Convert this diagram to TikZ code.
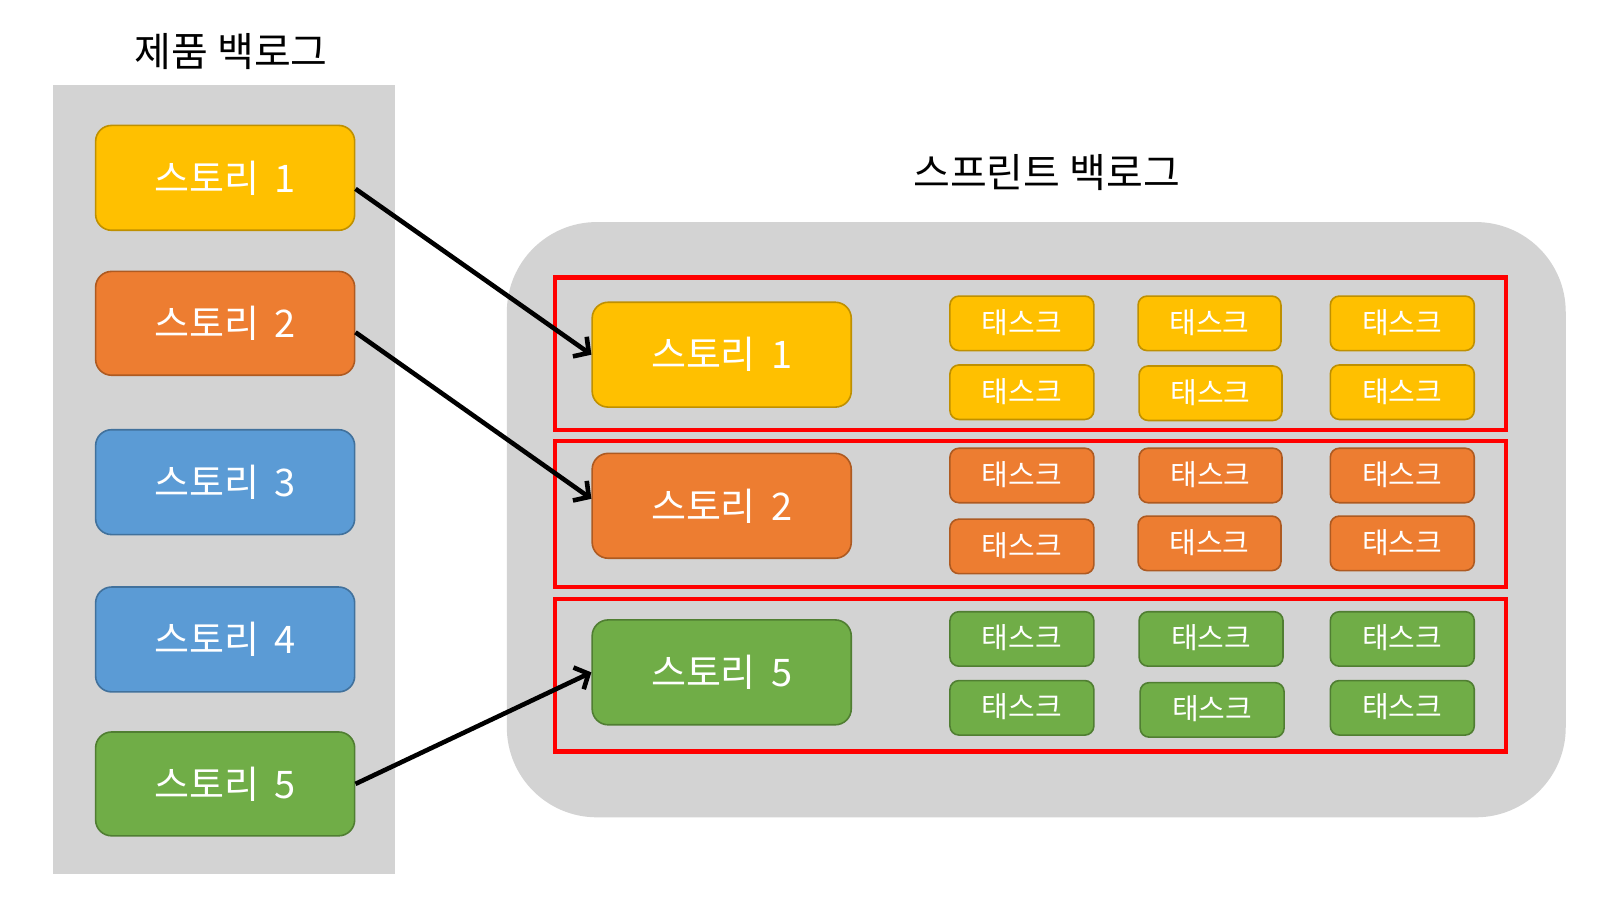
\documentclass[tikz,border=0pt]{standalone}
\usepackage{fontspec}
\setmainfont{Noto Sans CJK KR}
\usetikzlibrary{fit,arrows.meta}
\definecolor{ygold}{HTML}{FFC000}\definecolor{ygoldb}{HTML}{BF9000}
\definecolor{orng}{HTML}{ED7D31}\definecolor{orngb}{HTML}{AE5A21}
\definecolor{blu}{HTML}{5B9BD5}\definecolor{blub}{HTML}{41719C}
\definecolor{grn}{HTML}{70AD47}\definecolor{grnb}{HTML}{507E32}
\definecolor{panel}{HTML}{D3D3D3}
\newcommand{\sty}[1]{스토리\hspace{0.18em} #1}
\tikzset{
  box/.style={fit={#1}, inner sep=0pt, line width=1.6pt, rounded corners=16pt},
  tbox/.style={fit={#1}, inner sep=0pt, line width=1.6pt, rounded corners=9pt},
  yel/.style={fill=ygold, draw=ygoldb},
  ora/.style={fill=orng, draw=orngb},
  blue/.style={fill=blu, draw=blub},
  gre/.style={fill=grn, draw=grnb},
  stxt/.style={text=white, font=\fontsize{38}{44}\selectfont},
  ttxt/.style={text=white, font=\fontsize{29}{34}\selectfont},
  ttl/.style={text=black, font=\fontsize{40}{46}\selectfont},
  redrow/.style={fit={#1}, inner sep=0pt, draw=red, line width=4.2pt},
  conn/.style={line width=4.6pt, -{Straight Barb[length=11pt,width=24pt,line width=4.6pt]}},
}
\begin{document}
\begin{tikzpicture}[x=1.028pt,y=-1.028pt]
\useasboundingbox (0,0) rectangle (1568,876);
\fill[white] (0,0) rectangle (1568,876);
% titles
\node[ttl] (t1) at (225,50) {제품 백로그};
\node[ttl] (t2) at (1018,168) {스프린트 백로그};
% left panel
\node[fit={(52,83) (384,850)}, inner sep=0pt, fill=panel] (lp) {};
% right panel
\node[fit={(493,216) (1523,795)}, inner sep=0pt, fill=panel, rounded corners=90pt] (rp) {};
% left stories
\node[box={(93,122) (345,224)}, yel] (l1) {};
\node[box={(93,264) (345,365)}, ora] (l2) {};
\node[box={(93,418) (345,520)}, blue] (l3) {};
\node[box={(93,571) (345,673)}, blue] (l4) {};
\node[box={(93,712) (345,813)}, gre] (l5) {};
\node[stxt] at (l1.center) {\sty{1}};
\node[stxt] at (l2.center) {\sty{2}};
\node[stxt] at (l3.center) {\sty{3}};
\node[stxt] at (l4.center) {\sty{4}};
\node[stxt] at (l5.center) {\sty{5}};
% red rows
\node[redrow={(540,270) (1465,418)}] (r1) {};
\node[redrow={(540,429) (1465,571)}] (r2) {};
\node[redrow={(540,583) (1465,731)}] (r3) {};
% right stories
\node[box={(576,294) (828,396)}, yel] (s1) {};
\node[box={(576,441) (828,543)}, ora] (s2) {};
\node[box={(576,603) (828,705)}, gre] (s5) {};
\node[stxt] at (s1.center) {\sty{1}};
\node[stxt] at (s2.center) {\sty{2}};
\node[stxt] at (s5.center) {\sty{5}};
% tasks row 1
\node[tbox={(924,288) (1064,341)}, yel] (a1) {};
\node[tbox={(1107,288) (1246,341)}, yel] (a2) {};
\node[tbox={(1294,288) (1434,341)}, yel] (a3) {};
\node[tbox={(924,355) (1064,408)}, yel] (a4) {};
\node[tbox={(1108,356) (1247,409)}, yel] (a5) {};
\node[tbox={(1294,355) (1434,408)}, yel] (a6) {};
% tasks row 2
\node[tbox={(924,436) (1064,489)}, ora] (b1) {};
\node[tbox={(1108,436) (1247,489)}, ora] (b2) {};
\node[tbox={(1294,436) (1434,489)}, ora] (b3) {};
\node[tbox={(924,505) (1064,558)}, ora] (b4) {};
\node[tbox={(1107,502) (1246,555)}, ora] (b5) {};
\node[tbox={(1294,502) (1434,555)}, ora] (b6) {};
% tasks row 3
\node[tbox={(924,595) (1064,648)}, gre] (c1) {};
\node[tbox={(1108,595) (1248,648)}, gre] (c2) {};
\node[tbox={(1294,595) (1434,648)}, gre] (c3) {};
\node[tbox={(924,662) (1064,715)}, gre] (c4) {};
\node[tbox={(1109,664) (1249,717)}, gre] (c5) {};
\node[tbox={(1294,662) (1434,715)}, gre] (c6) {};
\foreach \n in {a1,a2,a3,a4,a5,a6,b1,b2,b3,b4,b5,b6,c1,c2,c3,c4,c5,c6}
  \node[ttxt] at ([yshift=1pt]\n.center) {태스크};
% connectors
\draw[conn] ([yshift=-11pt]l1.east) -- (s1.west);
\draw[conn] ([yshift=-9pt]l2.east) -- ([yshift=7pt]s2.west);
\draw[conn] (l5.east) -- (s5.west);
\end{tikzpicture}
\end{document}
